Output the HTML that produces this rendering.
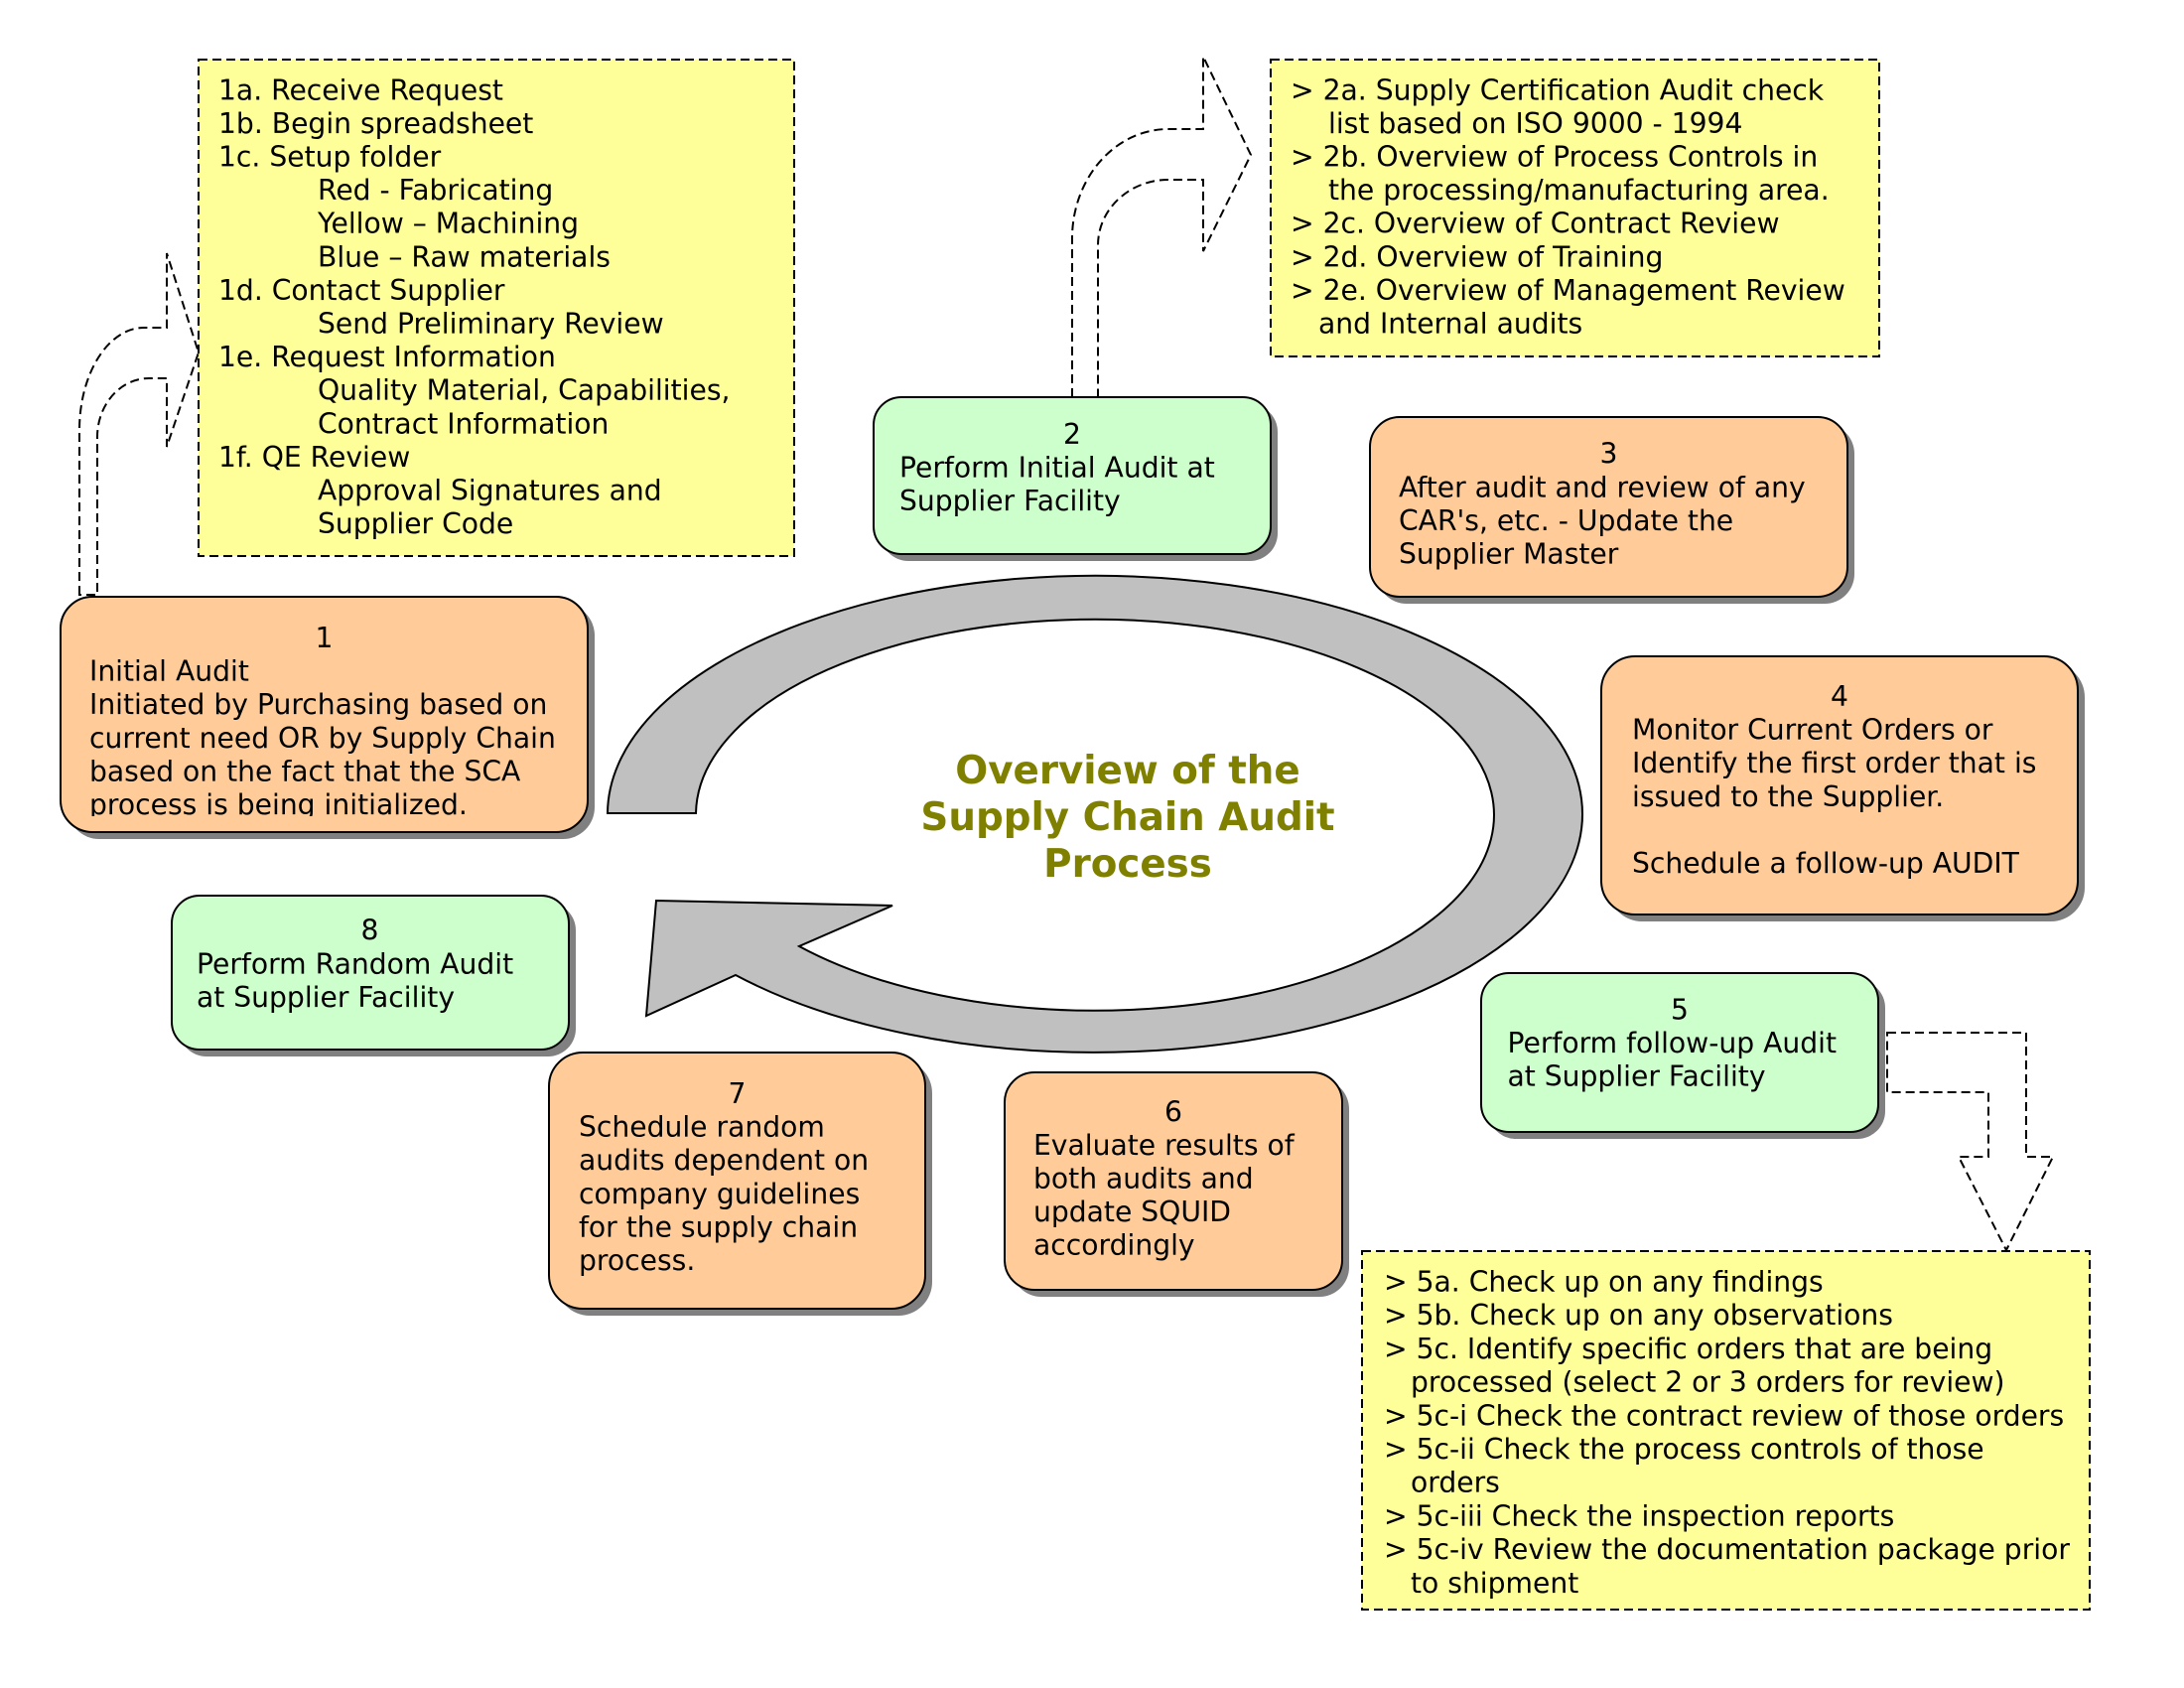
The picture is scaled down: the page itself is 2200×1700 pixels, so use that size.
<!DOCTYPE html>
<html>
<head>
<meta charset="utf-8">
<style>
  html, body { margin:0; padding:0; background:#ffffff; }
  svg { display:block; }
  text { font-family: "DejaVu Sans", Verdana, "Liberation Sans", sans-serif; font-size: 28.2px; fill:#000; }
  .n { text-anchor: middle; }
  .title { font-weight: bold; font-size: 38.8px; fill:#808000; text-anchor: middle; }
</style>
</head>
<body>
<svg width="2200" height="1700" viewBox="0 0 2200 1700" xmlns="http://www.w3.org/2000/svg">
  <defs>
    <clipPath id="c1"><rect x="61" y="601" width="531" height="221"/></clipPath>
  </defs>

  <!-- Big gray circular arrow -->
  <path d="M 612 819 A 491 240 0 1 1 741 982 L 651 1023 L 661 907 L 899 912 L 805 953 A 402 197 0 1 0 701 819 Z"
        fill="#C0C0C0" stroke="#000" stroke-width="2" stroke-linejoin="miter"/>

  <!-- Title -->
  <text class="title" x="1136" y="789">Overview of the</text>
  <text class="title" x="1136" y="836">Supply Chain Audit</text>
  <text class="title" x="1136" y="883">Process</text>

  <!-- Yellow box 1a -->
  <rect x="200" y="60" width="600" height="500" fill="#FFFF99" stroke="#000" stroke-width="2" stroke-dasharray="9 5"/>
  <text x="220" y="100.3">1a. Receive Request</text>
  <text x="220" y="133.9">1b. Begin spreadsheet</text>
  <text x="220" y="167.5">1c. Setup folder</text>
  <text x="320" y="201.1">Red - Fabricating</text>
  <text x="320" y="234.7">Yellow – Machining</text>
  <text x="320" y="268.3">Blue – Raw materials</text>
  <text x="220" y="301.9">1d. Contact Supplier</text>
  <text x="320" y="335.5">Send Preliminary Review</text>
  <text x="220" y="369.1">1e. Request Information</text>
  <text x="320" y="402.7">Quality Material, Capabilities,</text>
  <text x="320" y="436.3">Contract Information</text>
  <text x="220" y="469.9">1f. QE Review</text>
  <text x="320" y="503.5">Approval Signatures and</text>
  <text x="320" y="537.1">Supplier Code</text>

  <!-- Yellow box 2a -->
  <rect x="1280" y="60" width="613" height="299" fill="#FFFF99" stroke="#000" stroke-width="2" stroke-dasharray="9 5"/>
  <text x="1300" y="100.3">&gt; 2a. Supply Certification Audit check</text>
  <text x="1338" y="133.9">list based on ISO 9000 - 1994</text>
  <text x="1300" y="167.5">&gt; 2b. Overview of Process Controls in</text>
  <text x="1338" y="201.1">the processing/manufacturing area.</text>
  <text x="1300" y="234.7">&gt; 2c. Overview of Contract Review</text>
  <text x="1300" y="268.3">&gt; 2d. Overview of Training</text>
  <text x="1300" y="301.9">&gt; 2e. Overview of Management Review</text>
  <text x="1328" y="335.5">and Internal audits</text>

  <!-- Yellow box 5a -->
  <rect x="1372" y="1260" width="733" height="361" fill="#FFFF99" stroke="#000" stroke-width="2" stroke-dasharray="9 5"/>
  <text x="1394" y="1300.5">&gt; 5a. Check up on any findings</text>
  <text x="1394" y="1334.2">&gt; 5b. Check up on any observations</text>
  <text x="1394" y="1367.9">&gt; 5c. Identify specific orders that are being</text>
  <text x="1421" y="1401.6">processed (select 2 or 3 orders for review)</text>
  <text x="1394" y="1435.3">&gt; 5c-i Check the contract review of those orders</text>
  <text x="1394" y="1469.0">&gt; 5c-ii Check the process controls of those</text>
  <text x="1421" y="1502.7">orders</text>
  <text x="1394" y="1536.4">&gt; 5c-iii Check the inspection reports</text>
  <text x="1394" y="1570.1">&gt; 5c-iv Review the documentation package prior</text>
  <text x="1421" y="1603.8">to shipment</text>

  <!-- Dashed arrow 1 -->
  <path d="M 80 599 L 80 433 A 65 103 0 0 1 145 330 L 168 330 L 168 255 L 200 355 L 168 450 L 168 381 L 150 381 A 52 59 0 0 0 98 440 L 98 599 Z"
        fill="none" stroke="#000" stroke-width="2" stroke-dasharray="9 5"/>

  <!-- Dashed arrow 2 -->
  <path d="M 1080 400 L 1080 240 A 97 110 0 0 1 1177 130 L 1212 130 L 1212 57 L 1260 156 L 1212 253 L 1212 181 L 1177 181 A 71 66 0 0 0 1106 247 L 1106 400"
        fill="none" stroke="#000" stroke-width="2" stroke-dasharray="9 5"/>

  <!-- Dashed arrow 5 -->
  <path d="M 1901 1040 L 2041 1040 L 2041 1165 L 2068 1165 L 2021 1259 L 1973 1165 L 2003 1165 L 2003 1100 L 1901 1100 Z"
        fill="none" stroke="#000" stroke-width="2" stroke-dasharray="9 5"/>

  <!-- Box 1 -->
  <rect x="68" y="608" width="531" height="237" rx="32" fill="#808080"/>
  <rect x="61" y="601" width="531" height="237" rx="32" fill="#FFCC99" stroke="#000" stroke-width="2"/>
  <g clip-path="url(#c1)">
    <text class="n" x="326.5" y="652">1</text>
    <text x="90" y="685.6">Initial Audit</text>
    <text x="90" y="719.2">Initiated by Purchasing based on</text>
    <text x="90" y="752.8">current need OR by Supply Chain</text>
    <text x="90" y="786.4">based on the fact that the SCA</text>
    <text x="90" y="820.0">process is being initialized.</text>
  </g>

  <!-- Box 2 -->
  <rect x="887" y="407" width="400" height="158" rx="28" fill="#808080"/>
  <rect x="880" y="400" width="400" height="158" rx="28" fill="#CCFFCC" stroke="#000" stroke-width="2"/>
  <text class="n" x="1080" y="447">2</text>
  <text x="906" y="480.6">Perform Initial Audit at</text>
  <text x="906" y="514.2">Supplier Facility</text>

  <!-- Box 3 -->
  <rect x="1387" y="427" width="481" height="181" rx="30" fill="#808080"/>
  <rect x="1380" y="420" width="481" height="181" rx="30" fill="#FFCC99" stroke="#000" stroke-width="2"/>
  <text class="n" x="1620.5" y="466.7">3</text>
  <text x="1409" y="500.3">After audit and review of any</text>
  <text x="1409" y="533.9">CAR's, etc. - Update the</text>
  <text x="1409" y="567.5">Supplier Master</text>

  <!-- Box 4 -->
  <rect x="1620" y="668" width="480" height="260" rx="34" fill="#808080"/>
  <rect x="1613" y="661" width="480" height="260" rx="34" fill="#FFCC99" stroke="#000" stroke-width="2"/>
  <text class="n" x="1853" y="711">4</text>
  <text x="1644" y="744.6">Monitor Current Orders or</text>
  <text x="1644" y="778.2">Identify the first order that is</text>
  <text x="1644" y="811.8">issued to the Supplier.</text>
  <text x="1644" y="879.0">Schedule a follow-up AUDIT</text>

  <!-- Box 5 -->
  <rect x="1499" y="987" width="400" height="160" rx="28" fill="#808080"/>
  <rect x="1492" y="980" width="400" height="160" rx="28" fill="#CCFFCC" stroke="#000" stroke-width="2"/>
  <text class="n" x="1692" y="1026.5">5</text>
  <text x="1518.5" y="1060.1">Perform follow-up Audit</text>
  <text x="1518.5" y="1093.7">at Supplier Facility</text>

  <!-- Box 6 -->
  <rect x="1019" y="1087" width="340" height="219" rx="30" fill="#808080"/>
  <rect x="1012" y="1080" width="340" height="219" rx="30" fill="#FFCC99" stroke="#000" stroke-width="2"/>
  <text class="n" x="1182" y="1129.3">6</text>
  <text x="1041" y="1162.9">Evaluate results of</text>
  <text x="1041" y="1196.5">both audits and</text>
  <text x="1041" y="1230.1">update SQUID</text>
  <text x="1041" y="1263.7">accordingly</text>

  <!-- Box 7 -->
  <rect x="560" y="1067" width="379" height="258" rx="34" fill="#808080"/>
  <rect x="553" y="1060" width="379" height="258" rx="34" fill="#FFCC99" stroke="#000" stroke-width="2"/>
  <text class="n" x="742.5" y="1111">7</text>
  <text x="583" y="1144.6">Schedule random</text>
  <text x="583" y="1178.2">audits dependent on</text>
  <text x="583" y="1211.8">company guidelines</text>
  <text x="583" y="1245.4">for the supply chain</text>
  <text x="583" y="1279.0">process.</text>

  <!-- Box 8 -->
  <rect x="180" y="909" width="400" height="155" rx="28" fill="#808080"/>
  <rect x="173" y="902" width="400" height="155" rx="28" fill="#CCFFCC" stroke="#000" stroke-width="2"/>
  <text class="n" x="372.5" y="946.7">8</text>
  <text x="198" y="980.3">Perform Random Audit</text>
  <text x="198" y="1013.9">at Supplier Facility</text>
</svg>
</body>
</html>
